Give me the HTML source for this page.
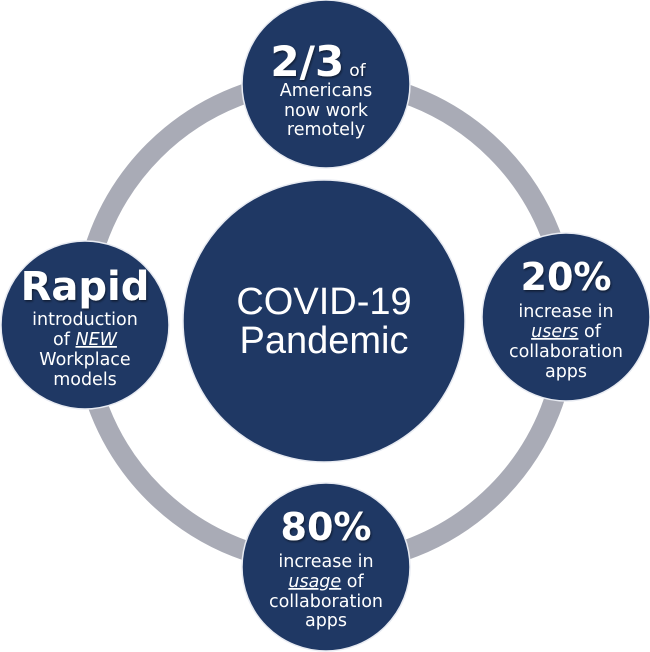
<!DOCTYPE html>
<html><head><meta charset="utf-8"><style>
html,body{margin:0;padding:0;background:#fff;width:650px;height:652px;overflow:hidden}
svg text{font-family:"DejaVu Sans","Liberation Sans",sans-serif;fill:#fff}
</style></head><body>
<svg width="650" height="652" viewBox="0 0 650 652" xmlns="http://www.w3.org/2000/svg">
<defs><filter id="sh" x="-20%" y="-20%" width="140%" height="140%"><feDropShadow dx="1" dy="1.5" stdDeviation="1" flood-color="#000" flood-opacity="0.5"/></filter></defs>
<circle cx="325" cy="322" r="242" fill="none" stroke="#a9abb6" stroke-width="20"/>
<g fill="#1f3864" stroke="#e8ebf2" stroke-width="1.5">
<circle cx="324" cy="321" r="141"/>
<circle cx="326" cy="84" r="84"/>
<circle cx="85" cy="325" r="84"/>
<circle cx="566" cy="317" r="84"/>
<circle cx="326" cy="567" r="84"/>
</g>
<g text-anchor="middle">
<text x="324" y="314" font-size="38" style="font-family:'Liberation Sans',sans-serif">COVID-19</text>
<text x="324" y="353" font-size="38" style="font-family:'Liberation Sans',sans-serif">Pandemic</text>

<text x="318" y="76" font-size="42" font-weight="bold" filter="url(#sh)">2/3<tspan font-size="17" font-weight="normal" dx="5">of</tspan></text>
<text x="326" y="96" font-size="17.5">Americans</text>
<text x="326" y="116" font-size="17.5">now work</text>
<text x="326" y="135" font-size="17.5">remotely</text>

<text x="85" y="300" font-size="40" font-weight="bold" filter="url(#sh)">Rapid</text>
<text x="85" y="325" font-size="17.5">introduction</text>
<text x="85" y="345" font-size="17.5">of <tspan font-style="italic" text-decoration="underline">NEW</tspan></text>
<text x="85" y="365" font-size="17.5">Workplace</text>
<text x="85" y="385" font-size="17.5">models</text>

<text x="566" y="290" font-size="38" font-weight="bold" filter="url(#sh)">20%</text>
<text x="566" y="317" font-size="17.5">increase in</text>
<text x="566" y="337" font-size="17.5"><tspan font-style="italic" text-decoration="underline">users</tspan> of</text>
<text x="566" y="357" font-size="17.5">collaboration</text>
<text x="566" y="377" font-size="17.5">apps</text>

<text x="326" y="540" font-size="38" font-weight="bold" filter="url(#sh)">80%</text>
<text x="326" y="567" font-size="17.5">increase in</text>
<text x="326" y="587" font-size="17.5"><tspan font-style="italic" text-decoration="underline">usage</tspan> of</text>
<text x="326" y="607" font-size="17.5">collaboration</text>
<text x="326" y="626" font-size="17.5">apps</text>
</g>
</svg>
</body></html>
